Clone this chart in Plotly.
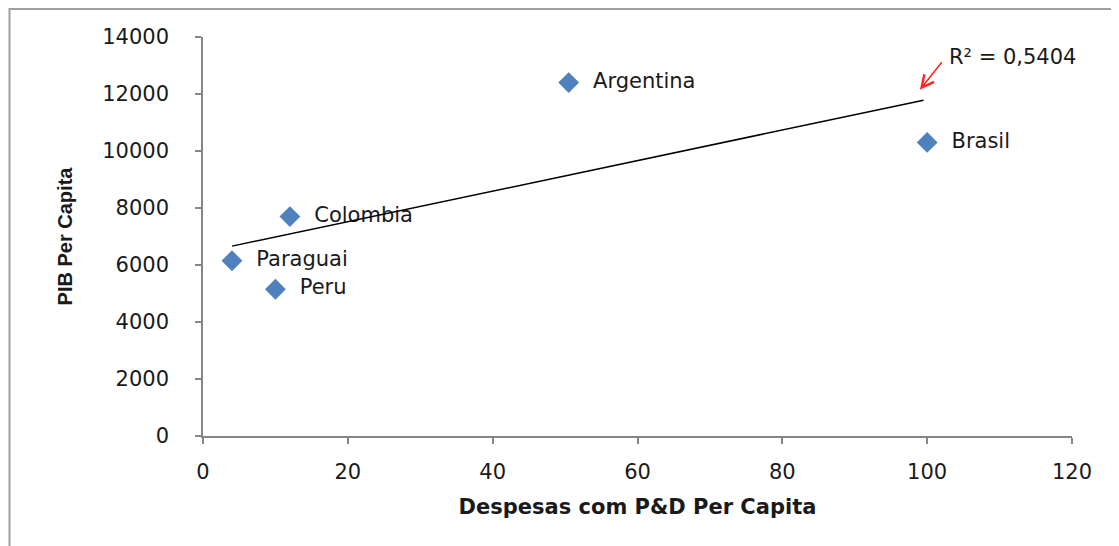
import numpy as np
import plotly.graph_objects as go

countries = ["Argentina", "Brasil", "Colombia", "Paraguai", "Peru"]
rd_per_capita = [50.5, 100, 12, 4, 10]
gdp_per_capita = [12400, 10300, 7700, 6150, 5150]
x_ticks = [0, 20, 40, 60, 80, 100, 120]
y_ticks = [0, 2000, 4000, 6000, 8000, 10000, 12000, 14000]
y_tick_text = ["0", "2000", "4000", "6000", "8000", "10000", "12000", "14000"]
r2_label = "R² = 0,5404"

# linear trendline from data
slope, intercept = np.polyfit(rd_per_capita, gdp_per_capita, 1)
tx = np.array([min(rd_per_capita), 99.5])
ty = slope * tx + intercept

FONT = "DejaVu Sans, Verdana, sans-serif"
AX = "#868686"
TXT = "#1a1a1a"

fig = go.Figure()
fig.add_trace(go.Scatter(
    x=rd_per_capita, y=gdp_per_capita, mode="markers+text",
    text=["  " + c for c in countries], textposition="middle right",
    textfont=dict(family=FONT, size=21, color=TXT),
    marker=dict(symbol="diamond", size=16, color="#4F81BD"),
    cliponaxis=False, showlegend=False, hoverinfo="skip"))
fig.add_trace(go.Scatter(
    x=tx, y=ty, mode="lines", line=dict(color="#000000", width=1.5),
    showlegend=False, hoverinfo="skip", cliponaxis=False))

# R^2 arrow and text
fig.add_annotation(x=99, y=12150, xref="x", yref="y", text="", showarrow=True,
                   ax=23, ay=-29, arrowhead=5, arrowsize=1.6, arrowwidth=1.5,
                   arrowcolor="#FF2020")
fig.add_annotation(x=102.8, y=13300, xref="x", yref="y", text=r2_label,
                   showarrow=False, xanchor="left", yanchor="middle",
                   font=dict(family=FONT, size=21, color=TXT))

# outer chart border (paper coords relative to the 869x399 plot area at svg x 195, y 29)
fig.add_shape(type="rect", xref="paper", yref="paper",
              x0=(1.5 - 195) / 869, x1=(1135 - 195) / 869,
              y0=(428 - 560) / 399, y1=(428 - 1) / 399,
              line=dict(color="#A0A0A0", width=2), fillcolor="rgba(0,0,0,0)", layer="below")

fig.update_xaxes(range=[0, 120], tickvals=x_ticks, ticks="outside", ticklen=6,
                 tickcolor=AX, tickwidth=1.5, showline=True, linecolor=AX, linewidth=1.5,
                 showgrid=False, zeroline=False, ticklabelstandoff=10,
                 tickfont=dict(family=FONT, size=21, color=TXT),
                 title=dict(text="<b>Despesas com P&D Per Capita</b>", standoff=16,
                            font=dict(family=FONT, size=21, color=TXT)))
fig.update_yaxes(range=[0, 14000], tickvals=y_ticks, ticktext=y_tick_text, ticks="outside",
                 ticklen=6, tickcolor=AX, tickwidth=1.5, showline=True, linecolor=AX,
                 linewidth=1.5, showgrid=False, zeroline=False, ticklabelstandoff=22,
                 tickfont=dict(family=FONT, size=21, color=TXT),
                 title=dict(text="<b>PIB Per Capita</b>", standoff=24,
                            font=dict(family="Liberation Sans Narrow, Liberation Sans, Arial",
                                      size=20, color=TXT)))

# page body adds ~8px offset; margins compensate so the plot area lands at x 203-1072, y 37-436
fig.update_layout(width=1119, height=546, margin=dict(l=195, r=55, t=29, b=118),
                  paper_bgcolor="white", plot_bgcolor="white")

fig.write_html("out.html")
